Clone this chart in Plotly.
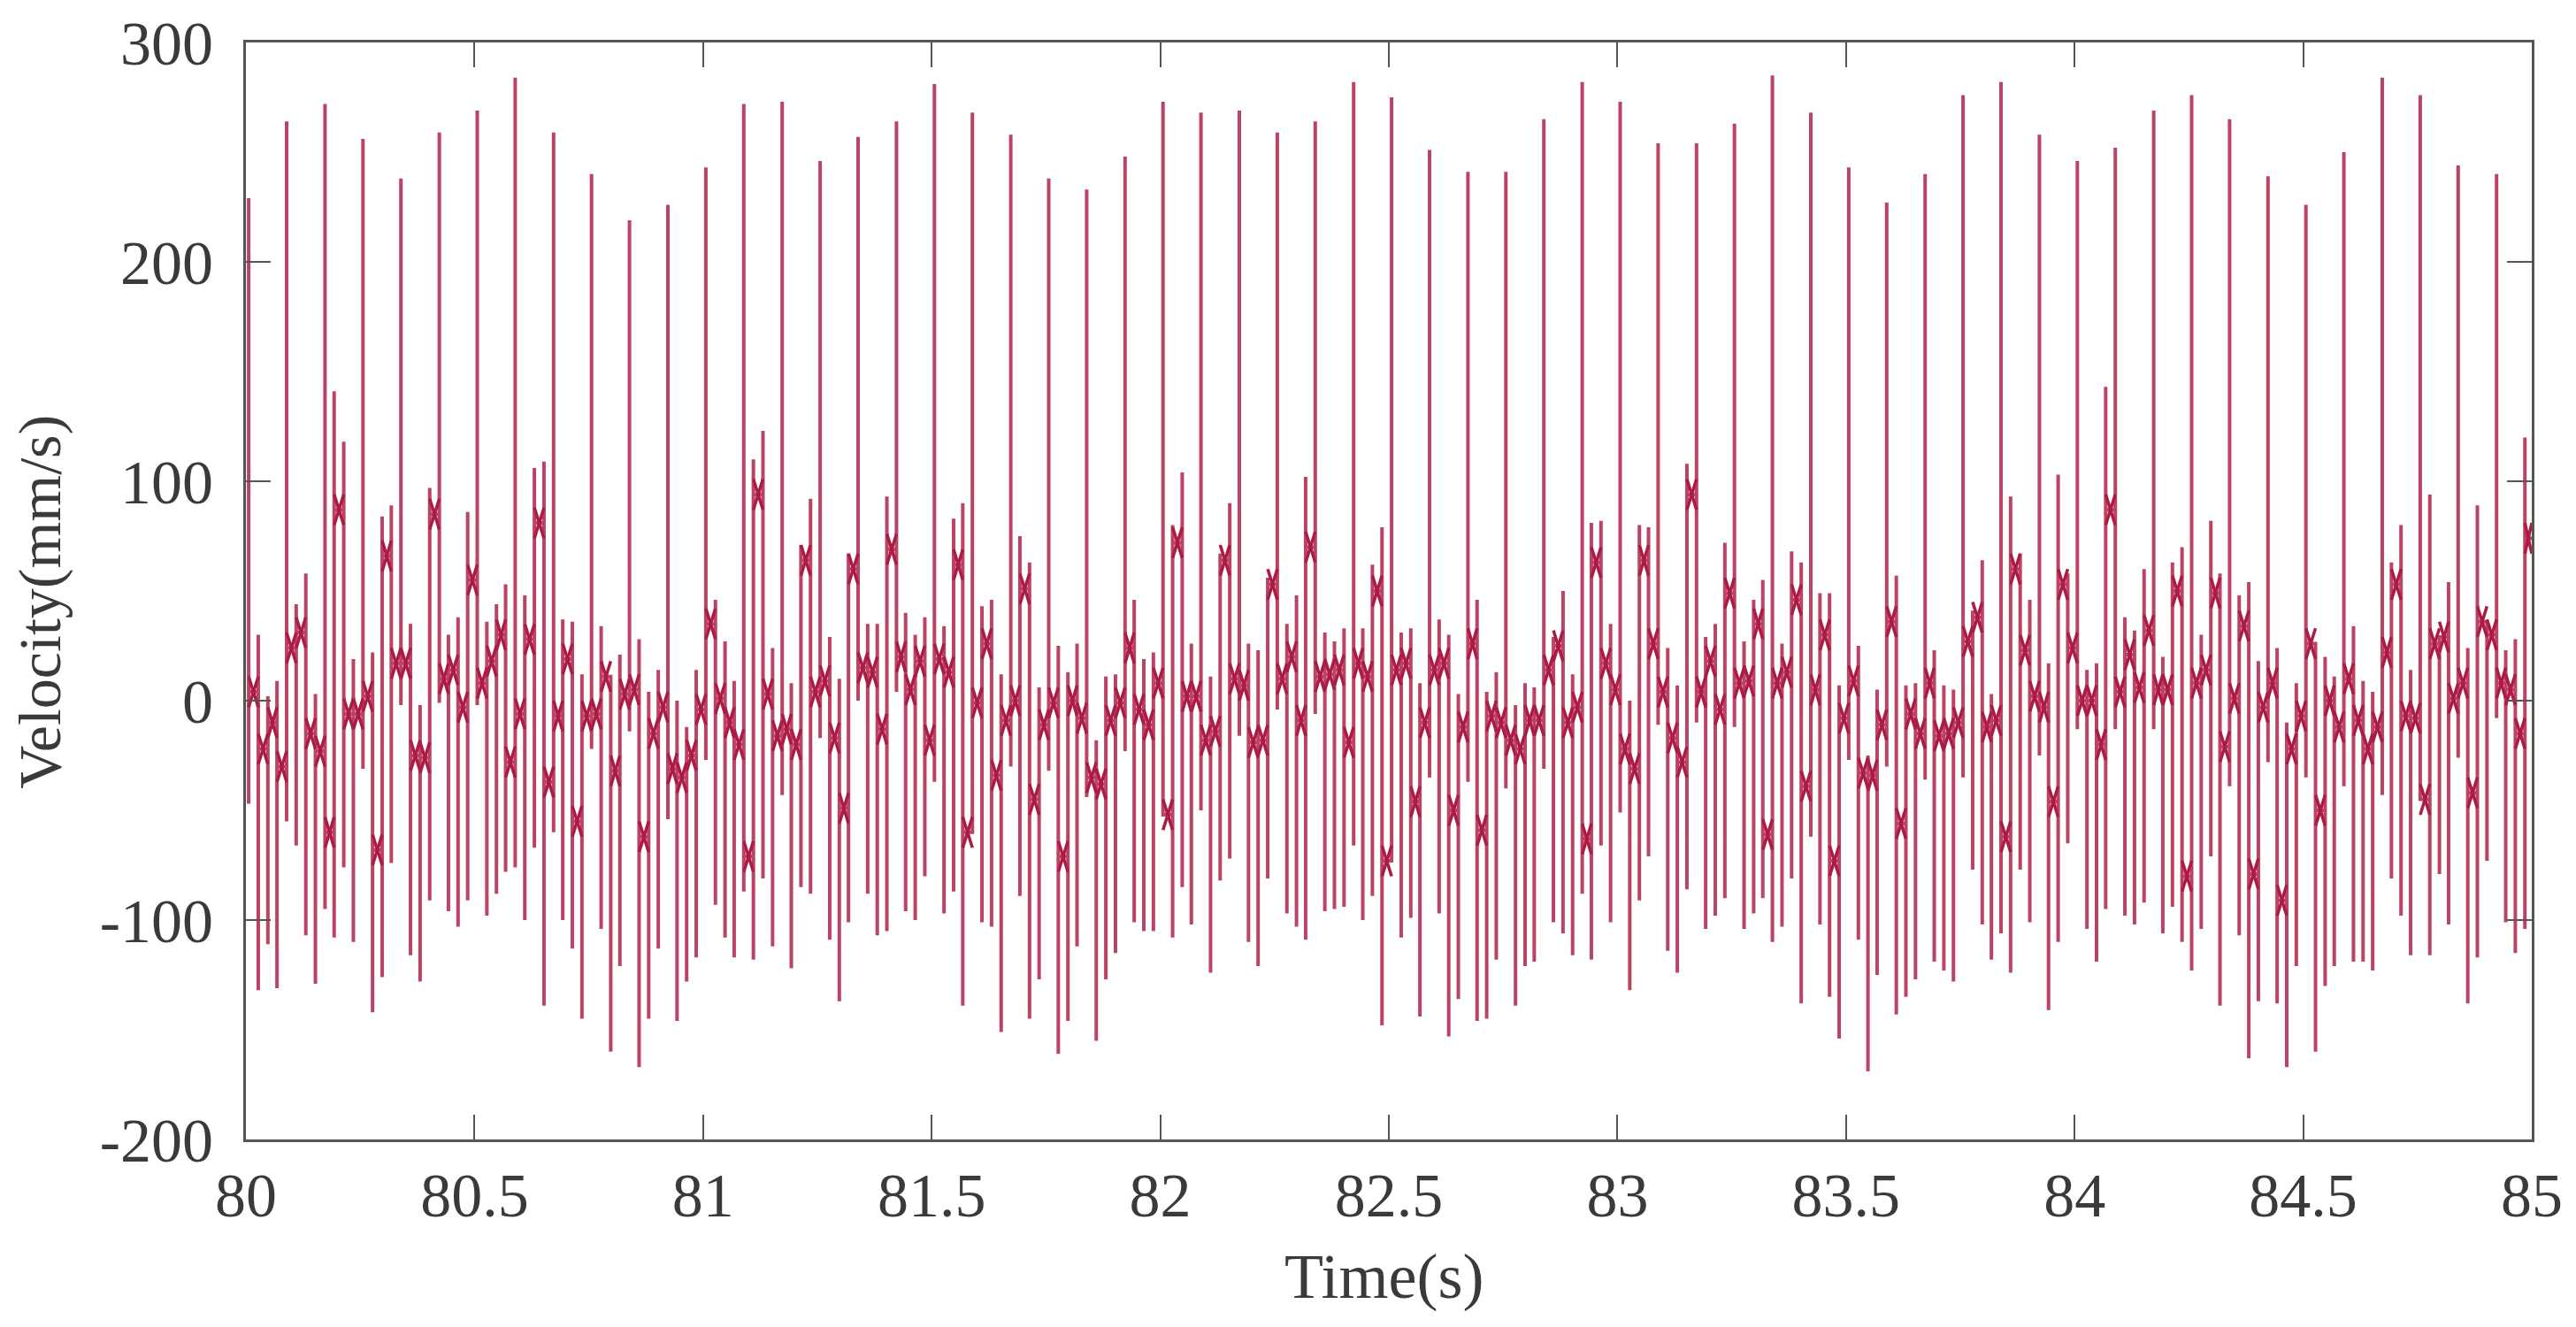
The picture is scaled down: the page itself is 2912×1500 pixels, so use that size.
import plotly.graph_objects as go

# one vertical stroke per sample
stroke_time = [
    80.006, 80.027, 80.048, 80.068, 80.089, 80.110, 80.131, 80.152, 80.173, 80.193, 80.214, 80.235,
    80.256, 80.277, 80.298, 80.318, 80.339, 80.360, 80.381, 80.402, 80.423, 80.443, 80.464, 80.485,
    80.506, 80.527, 80.548, 80.568, 80.589, 80.610, 80.631, 80.652, 80.673, 80.693, 80.714, 80.735,
    80.756, 80.777, 80.798, 80.818, 80.839, 80.860, 80.881, 80.902, 80.923, 80.943, 80.964, 80.985,
    81.006, 81.027, 81.048, 81.068, 81.089, 81.110, 81.131, 81.152, 81.173, 81.193, 81.214, 81.235,
    81.256, 81.277, 81.298, 81.318, 81.339, 81.360, 81.381, 81.402, 81.423, 81.443, 81.464, 81.485,
    81.506, 81.527, 81.548, 81.568, 81.589, 81.610, 81.631, 81.652, 81.673, 81.693, 81.714, 81.735,
    81.756, 81.777, 81.798, 81.818, 81.839, 81.860, 81.881, 81.902, 81.923, 81.943, 81.964, 81.985,
    82.006, 82.027, 82.048, 82.068, 82.089, 82.110, 82.131, 82.152, 82.173, 82.193, 82.214, 82.235,
    82.256, 82.277, 82.298, 82.318, 82.339, 82.360, 82.381, 82.402, 82.423, 82.443, 82.464, 82.485,
    82.506, 82.527, 82.548, 82.568, 82.589, 82.610, 82.631, 82.652, 82.673, 82.693, 82.714, 82.735,
    82.756, 82.777, 82.798, 82.818, 82.839, 82.860, 82.881, 82.902, 82.923, 82.943, 82.964, 82.985,
    83.006, 83.027, 83.048, 83.068, 83.089, 83.110, 83.131, 83.152, 83.173, 83.193, 83.214, 83.235,
    83.256, 83.277, 83.298, 83.318, 83.339, 83.360, 83.381, 83.402, 83.423, 83.443, 83.464, 83.485,
    83.506, 83.527, 83.548, 83.568, 83.589, 83.610, 83.631, 83.652, 83.673, 83.693, 83.714, 83.735,
    83.756, 83.777, 83.798, 83.818, 83.839, 83.860, 83.881, 83.902, 83.923, 83.943, 83.964, 83.985,
    84.006, 84.027, 84.048, 84.068, 84.089, 84.110, 84.131, 84.152, 84.173, 84.193, 84.214, 84.235,
    84.256, 84.277, 84.298, 84.318, 84.339, 84.360, 84.381, 84.402, 84.423, 84.443, 84.464, 84.485,
    84.506, 84.527, 84.548, 84.568, 84.589, 84.610, 84.631, 84.652, 84.673, 84.693, 84.714, 84.735,
    84.756, 84.777, 84.798, 84.818, 84.839, 84.860, 84.881, 84.902, 84.923, 84.943, 84.964, 84.985,
]

stroke_top = [
    229, 30, 2, 9, 264, 44, 58, 3, 272, 141,
    118, 19, 256, 22, 84, 89, 238, 35, -2, 97,
    259, 30, 38, 86, 269, 36, 44, 53, 284, 48,
    106, 109, 259, 37, 36, 12, 240, 34, -6, 21,
    219, 28, 4, 14, 226, 0, -12, 14, 243, 46,
    27, 9, 272, 110, 123, 24, 273, 8, 71, 92,
    246, 29, 10, 67, 257, 35, 35, 93, 264, 40,
    30, 38, 281, 34, 83, 90, 268, 43, 46, 12,
    258, 75, 63, 6, 238, 25, 13, 26, 233, -18,
    11, 12, 248, 46, 19, 22, 273, 80, 104, 26,
    268, 11, 67, 90, 269, 26, 23, 56, 259, 35,
    48, 102, 264, 31, 27, 33, 282, 33, 62, 79,
    275, 31, 33, 8, 251, 37, 30, 3, 241, 46,
    4, 13, 241, -2, 8, 6, 265, 29, 50, 12,
    282, 81, 82, 35, 273, 0, 80, 79, 254, 24,
    7, 108, 254, 29, 35, 72, 263, 27, 46, 55,
    285, 26, 68, 63, 268, 49, 49, 7, 243, 25,
    -25, 5, 227, 57, 7, 8, 240, 23, 7, 5,
    276, 41, 64, 3, 282, 93, 67, 46, 258, 17,
    103, 58, 246, 14, 17, 143, 252, 38, 32, 60,
    269, 20, 63, 70, 276, 30, 82, 58, 265, 48,
    54, 18, 239, 24, -10, 8, 226, -12, 20, 11,
    250, 34, 9, 4, 284, 63, 80, 14, 276, 94,
    -12, 54, 244, 24, 89, 35, 240, 23, 28, 120,
]

stroke_bottom = [
    -47, -132, -111, -131, -55, -66, -107, -129, -95, -108,
    -76, -110, -31, -142, -126, -74, -2, -116, -128, -91,
    -1, -96, -103, -91, -2, -98, -88, -78, -76, -100,
    -67, -139, -60, -100, -113, -145, -22, -104, -160, -121,
    -14, -167, -145, -113, -54, -146, -128, -117, -27, -93,
    -108, -117, -87, -118, -81, -112, -43, -122, -85, -88,
    -17, -109, -137, -101, 0, -88, -107, -105, 4, -96,
    -100, -80, -37, -97, -87, -139, -25, -101, -103, -151,
    -30, -89, -145, -127, -32, -161, -146, -112, -44, -155,
    -127, -115, -23, -101, -105, -105, -13, -108, -85, -102,
    -50, -124, -82, -72, -16, -110, -121, -81, -4, -97,
    -103, -109, -6, -96, -95, -94, -66, -100, -89, -148,
    -10, -108, -99, -144, -35, -97, -153, -136, -37, -146,
    -145, -118, -40, -139, -121, -119, -31, -101, -106, -116,
    -88, -118, -66, -101, -51, -132, -91, -71, -11, -114,
    -124, -86, -10, -104, -98, -90, -12, -104, -97, -90,
    -110, -103, -81, -138, -62, -102, -135, -154, -27, -109,
    -169, -125, -30, -143, -135, -127, -36, -119, -123, -128,
    -35, -77, -102, -118, -106, -124, -77, -101, -25, -141,
    -110, -65, -13, -104, -119, -95, -13, -98, -102, -92,
    -13, -106, -94, -110, -123, -104, -71, -139, -39, -107,
    -163, -137, -28, -138, -167, -121, -35, -160, -130, -121,
    -39, -119, -119, -123, -43, -81, -98, -116, -43, -116,
    -79, -102, -26, -138, -117, -73, -8, -101, -115, -104,
]

# level where one stroke hands over to the next (the dark blots)
link_level = [
    4, -22, -10, -30, 24, 31, -15, -23, -60, 87,
    -6, -6, 2, -68, 66, 17, 17, -25, -26, 85,
    10, 14, -3, 55, 8, 18, 30, -28, -6, 28,
    81, -37, -7, 19, -55, -7, -6, 11, -32, 3,
    5, -62, -15, -3, -31, -35, -25, -4, 35, 1,
    -10, -20, -71, 94, 3, -16, -13, -20, 64, 4,
    9, -17, -49, 60, 15, 13, -13, 69, 20, 5,
    18, -18, 19, 13, 62, -60, -1, 26, -34, -9,
    0, 51, -45, -11, -1, -71, 0, -8, -35, -38,
    -9, -1, 24, -4, -11, 8, -52, 72, 2, 2,
    -18, -14, 64, 10, 7, -19, -18, 53, 10, 20,
    -9, 70, 11, 12, 14, -19, 17, 11, 50, -73,
    14, 17, -46, -10, 14, 17, -50, -12, 26, -59,
    -7, -10, -18, -22, -9, -9, 14, 25, -10, -3,
    -63, 63, 17, 5, -22, -31, 64, 26, 4, -17,
    -28, 94, 4, 18, -4, 49, 8, 9, 35, -61,
    8, 13, 46, -39, 5, 30, -73, -8, 9, -33,
    -34, -11, 36, -56, -6, -15, 8, -16, -15, -10,
    27, 38, -12, -9, -62, 60, 23, 2, -3, -46,
    53, 24, 0, 0, -20, 87, 4, 21, 6, 32,
    5, 5, 50, -80, 8, 14, 49, -21, 1, 34,
    -79, -3, 8, -91, -22, -7, 26, -50, 0, -12,
    10, -9, -22, -12, 22, 53, -7, -8, -45, 26,
    29, 1, 8, -42, 36, 30, 8, 5, -15, 74,
]

x_ticks = [80, 80.5, 81, 81.5, 82, 82.5, 83, 83.5, 84, 84.5, 85]
x_labels = ['80', '80.5', '81', '81.5', '82', '82.5', '83', '83.5', '84', '84.5', '85']
y_ticks = [-200, -100, 0, 100, 200, 300]
y_labels = ['-200', '-100', '0', '100', '200', '300']

FONT = 'Liberation Serif'
TEXT_COLOR = '#3a3a3a'
AXIS_COLOR = '#555555'
BLOT_SPREAD = 7  # half height of the dark X at each hand-over, in mm/s

line_x, line_y = [], []
blot_x, blot_y = [], []
for i, t in enumerate(stroke_time):
    next_t = stroke_time[i + 1] if i + 1 < len(stroke_time) else 85
    level = link_level[i]
    line_x += [t, t, t, next_t]
    line_y += [stroke_top[i], stroke_bottom[i], level, level]
    blot_x += [t, next_t, None, t, next_t, None]
    blot_y += [level + BLOT_SPREAD, level - BLOT_SPREAD, None, level - BLOT_SPREAD, level + BLOT_SPREAD, None]

fig = go.Figure()
fig.add_trace(go.Scatter(
    x=line_x, y=line_y,
    mode='lines',
    line=dict(color='#bb4464', width=4),
    showlegend=False
))
fig.add_trace(go.Scatter(
    x=blot_x, y=blot_y,
    mode='lines',
    line=dict(color='#ad1a45', width=3.5),
    showlegend=False
))

fig.update_layout(
    width=2912,
    height=1500,
    # the page adds 8 px around the figure
    margin=dict(l=270, r=58, t=40, b=220),
    paper_bgcolor='white',
    plot_bgcolor='white',
    font=dict(family=FONT, size=70, color=TEXT_COLOR),
    xaxis=dict(
        range=[80, 85],
        automargin=False,
        tickmode='array',
        tickvals=x_ticks,
        ticktext=x_labels,
        ticks='inside',
        ticklen=28,
        tickwidth=2,
        tickcolor=AXIS_COLOR,
        ticklabelstandoff=0,
        showline=True,
        linewidth=3,
        linecolor=AXIS_COLOR,
        mirror='ticks',
        showgrid=False,
        zeroline=False
    ),
    yaxis=dict(
        range=[-200, 300],
        automargin=False,
        tickmode='array',
        tickvals=y_ticks,
        ticktext=y_labels,
        ticks='inside',
        ticklen=28,
        tickwidth=2,
        tickcolor=AXIS_COLOR,
        ticklabelstandoff=20,
        showline=True,
        linewidth=3,
        linecolor=AXIS_COLOR,
        mirror='ticks',
        showgrid=False,
        zeroline=False
    ),
    annotations=[
        dict(text='Time(s)', xref='paper', yref='paper', x=0.498, y=-0.125,
             xanchor='center', yanchor='middle', showarrow=False, font=dict(size=72)),
        dict(text='Velocity(mm/s)', xref='paper', yref='paper', x=-0.09, y=0.49,
             xanchor='center', yanchor='middle', textangle=-90, showarrow=False, font=dict(size=68)),
    ]
)

fig.write_html("out.html")
